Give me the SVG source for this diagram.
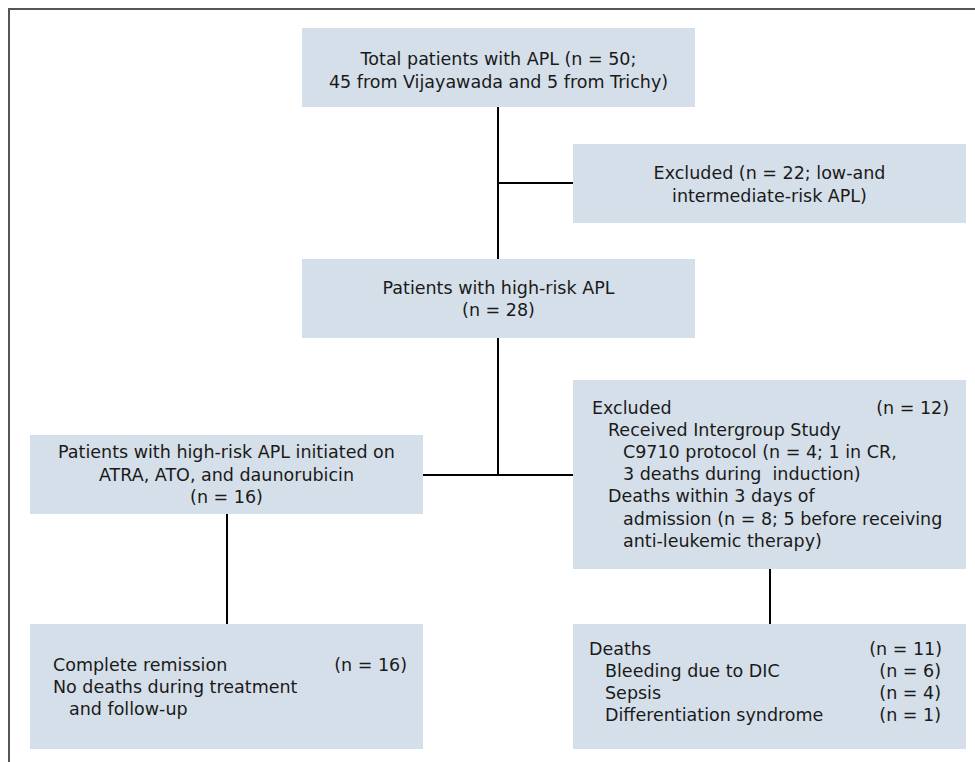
<svg xmlns="http://www.w3.org/2000/svg" width="975" height="762" viewBox="0 0 975 762">
<style>
.box{fill:#d5dfe9;stroke:none}
.t{font-family:"DejaVu Sans",sans-serif;font-size:17.5px;fill:#1a1a1a;white-space:pre}
.c{text-anchor:middle}
.e{text-anchor:end}
.ln{stroke:#000;stroke-width:2;fill:none}
.frame{stroke:#555;stroke-width:2;fill:none}
</style>
<rect width="975" height="762" fill="#fff"/>
<path class="frame" d="M9,762 V9 H975"/>
<g id="connectors">
<path class="ln" d="M498,107 V259"/>
<path class="ln" d="M498,183 H573"/>
<path class="ln" d="M498,338 V475"/>
<path class="ln" d="M423,475 H573"/>
<path class="ln" d="M227,514 V624"/>
<path class="ln" d="M770,569 V624"/>
</g>
<g id="total">
<rect class="box" x="302" y="28" width="393" height="79"/>
<text class="t c" x="498.5" y="65">Total patients with APL (n = 50;</text>
<text class="t c" x="498.5" y="88">45 from Vijayawada and 5 from Trichy)</text>
</g>
<g id="excluded1">
<rect class="box" x="573" y="144" width="393" height="79"/>
<text class="t c" x="769.5" y="179">Excluded (n = 22; low-and</text>
<text class="t c" x="769.5" y="202">intermediate-risk APL)</text>
</g>
<g id="highrisk">
<rect class="box" x="302" y="259" width="393" height="79"/>
<text class="t c" x="498.5" y="294">Patients with high-risk APL</text>
<text class="t c" x="498.5" y="316">(n = 28)</text>
</g>
<g id="initiated">
<rect class="box" x="30" y="435" width="393" height="79"/>
<text class="t c" x="226.5" y="458">Patients with high-risk APL initiated on</text>
<text class="t c" x="226.5" y="480.5">ATRA, ATO, and daunorubicin</text>
<text class="t c" x="226.5" y="503">(n = 16)</text>
</g>
<g id="excluded2">
<rect class="box" x="573" y="380" width="393" height="189"/>
<text class="t" x="592" y="413.5">Excluded</text>
<text class="t e" x="949" y="413.5">(n = 12)</text>
<text class="t" x="608" y="436">Received Intergroup Study</text>
<text class="t" x="623" y="458">C9710 protocol (n = 4; 1 in CR,</text>
<text class="t" x="623" y="480">3 deaths during  induction)</text>
<text class="t" x="608" y="502">Deaths within 3 days of</text>
<text class="t" x="623" y="524.5">admission (n = 8; 5 before receiving</text>
<text class="t" x="623" y="547">anti-leukemic therapy)</text>
</g>
<g id="remission">
<rect class="box" x="30" y="624" width="393" height="125"/>
<text class="t" x="53" y="671">Complete remission</text>
<text class="t e" x="407" y="671">(n = 16)</text>
<text class="t" x="53" y="693">No deaths during treatment</text>
<text class="t" x="69" y="715">and follow-up</text>
</g>
<g id="deaths">
<rect class="box" x="573" y="624" width="393" height="125"/>
<text class="t" x="589" y="655">Deaths</text>
<text class="t e" x="942" y="655">(n = 11)</text>
<text class="t" x="605" y="677">Bleeding due to DIC</text>
<text class="t e" x="941" y="677">(n = 6)</text>
<text class="t" x="605" y="699">Sepsis</text>
<text class="t e" x="941" y="699">(n = 4)</text>
<text class="t" x="605" y="721">Differentiation syndrome</text>
<text class="t e" x="941" y="721">(n = 1)</text>
</g>
</svg>
